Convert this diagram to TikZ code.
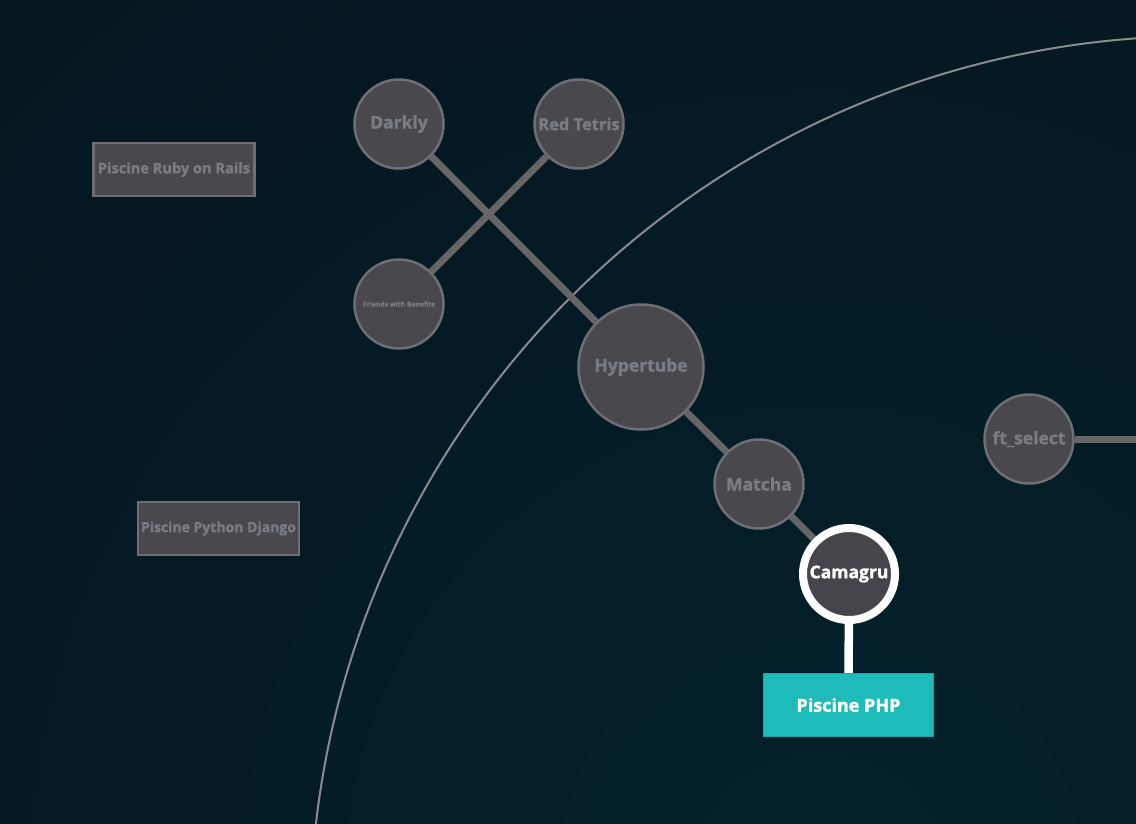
\documentclass[tikz,border=0pt]{standalone}
\usepackage{fontspec}
\setmainfont{Open Sans}[BoldFeatures={FakeBold=1.6}]
\pgfdeclarelayer{bg}
\pgfdeclarelayer{edges}
\pgfsetlayers{bg,edges,main}
\definecolor{bgdark}{HTML}{070F16}
\definecolor{bglight}{HTML}{03212C}
\definecolor{nodefill}{HTML}{48484D}
\definecolor{nodeborder}{HTML}{6E6E74}
\definecolor{nodetext}{HTML}{7A7C84}
\definecolor{edgegray}{HTML}{666666}
\definecolor{arcgray}{HTML}{8A8A90}
\definecolor{teal}{HTML}{1EBBBB}
\definecolor{tealborder}{HTML}{19A3A5}
\definecolor{camfill}{HTML}{47454B}
\tikzset{
  proj/.style={circle, fill=nodefill, draw=nodeborder, line width=2.5pt,
    minimum size=89pt, inner sep=0pt, text=nodetext, font=\bfseries\fontsize{17.5}{20}\selectfont},
  bigproj/.style={proj, minimum size=125pt, font=\bfseries\fontsize{17.5}{20}\selectfont},
  piscine/.style={rectangle, fill=nodefill, draw=nodeborder, line width=2.5pt,
    inner sep=0pt, text=nodetext, font=\bfseries\fontsize{14}{16}\selectfont},
  activeproj/.style={circle, fill=camfill, draw=white, line width=8pt,
    minimum size=92pt, inner sep=0pt, text=white, font=\bfseries\fontsize{17.5}{20}\selectfont},
  activepiscine/.style={rectangle, fill=teal, draw=tealborder, line width=1pt,
    inner sep=0pt, text=white, font=\bfseries\fontsize{17.5}{20}\selectfont},
  link/.style={draw=edgegray, line width=7pt},
  activelink/.style={draw=white, line width=8.5pt},
}
\begin{document}
\begin{tikzpicture}[x=1pt,y=-1pt]
\useasboundingbox (0,0) rectangle (1136,823);
\begin{pgfonlayer}{bg}
  \clip (0,0) rectangle (1136,823);
  \fill[bgdark] (0,0) rectangle (1136,823);
  \shade[inner color=bglight, outer color=bgdark] (820,880) circle (1900);
  \draw[arcgray, line width=2pt] (1201,927) circle (891);
\end{pgfonlayer}

\node[proj] (darkly) at (399,124) {Darkly};
\node[proj, font=\bfseries\fontsize{16.5}{19}\selectfont] (redtetris) at (579,124) {Red Tetris};
\node[proj, font=\bfseries\fontsize{6.8}{8}\selectfont] (friends) at (399,304) {Friends with Benefits};
\node[bigproj] (hypertube) at (641,367) {Hypertube};
\node[proj] (matcha) at (759,484) {Matcha};
\node[activeproj] (camagru) at (849,574) {Camagru};
\node[proj] (ftselect) at (1029,439) {ft\_select};
\coordinate (rightedge) at (1136,439);

\node[piscine, minimum width=161pt, minimum height=53pt, font=\bfseries\fontsize{14.6}{17}\selectfont] (ruby) at (174,169.5) {Piscine Ruby on Rails};
\node[piscine, minimum width=161pt, minimum height=53pt] (django) at (218.5,528.5) {Piscine Python Django};
\node[activepiscine, minimum width=170pt, minimum height=63pt, font=\bfseries\fontsize{18}{20}\selectfont] (php) at (848.5,705) {Piscine PHP};

\begin{pgfonlayer}{edges}
  \draw[link] (darkly) -- (hypertube);
  \draw[link] (redtetris) -- (friends);
  \draw[link] (hypertube) -- (matcha);
  \draw[link] (matcha) -- (camagru);
  \draw[link] (ftselect) -- (rightedge);
  \draw[activelink] (camagru) -- (php);
\end{pgfonlayer}
\end{tikzpicture}
\end{document}
